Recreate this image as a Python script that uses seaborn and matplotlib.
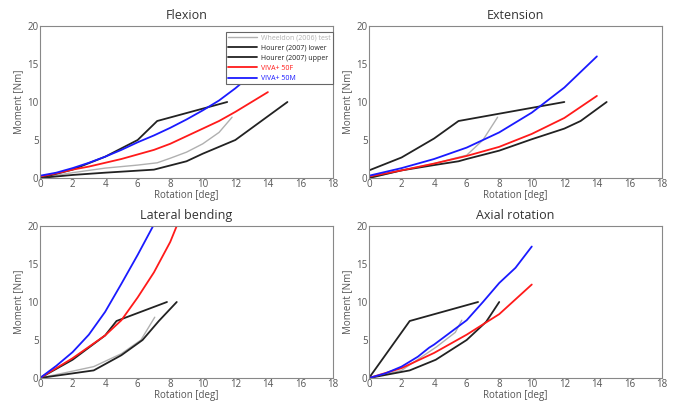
import numpy as np
import pandas as pd
import matplotlib
matplotlib.use("Agg")
import matplotlib.pyplot as plt
import seaborn as sns

sns.set_style("white")
plt.rcParams['font.family'] = ['Open Sans', 'DejaVu Sans']

series_names = ["Wheeldon (2006) test", "Hourer (2007) lower", "Hourer (2007) upper",
                "VIVA+ 50F", "VIVA+ 50M"]
series_colors = ["#b0b0b0", "#222222", "#222222", "#ff1a1a", "#1a1aff"]
titles = ["Flexion", "Extension", "Lateral bending", "Axial rotation"]
x_ticks = [0, 2, 4, 6, 8, 10, 12, 14, 16, 18]
y_ticks = [0, 5, 10, 15, 20]

# Flexion
flex_test_x = [0, 2, 4, 6, 7.2, 8, 9, 10, 11, 11.8]
flex_test_y = [0, 0.7, 1.3, 1.7, 2.0, 2.6, 3.4, 4.5, 6.0, 8.0]
flex_low_x = [0, 2, 4, 6, 7.2, 11.5]
flex_low_y = [0, 1.1, 2.8, 5.0, 7.5, 10.0]
flex_up_x = [0, 2, 4, 7, 9, 10, 12, 15.2]
flex_up_y = [0, 0.4, 0.7, 1.1, 2.2, 3.2, 5.0, 10.0]
flex_50f_x = [0, 1, 2, 3, 4, 5, 6, 7, 8, 9, 10, 11, 12, 13, 14]
flex_50f_y = [0.2, 0.6, 1.1, 1.5, 2.0, 2.5, 3.1, 3.7, 4.5, 5.5, 6.5, 7.5, 8.7, 10.0, 11.3]
flex_50m_x = [0, 1, 2, 3, 4, 5, 6, 7, 8, 9, 10, 11, 12, 13, 14]
flex_50m_y = [0.3, 0.7, 1.3, 2.0, 2.8, 3.7, 4.7, 5.6, 6.6, 7.7, 8.9, 10.2, 11.8, 13.6, 15.6]

# Extension
ext_test_x = [0, 2, 4, 6, 7, 7.9]
ext_test_y = [0, 1.0, 1.9, 3.0, 5.0, 8.0]
ext_low_x = [0, 2, 4, 5.5, 12]
ext_low_y = [1.0, 2.7, 5.2, 7.5, 10.0]
ext_up_x = [0, 2, 4, 5.5, 6, 8, 10, 12, 13, 14.6]
ext_up_y = [0, 1.0, 1.7, 2.2, 2.5, 3.6, 5.1, 6.5, 7.5, 10.0]
ext_50f_x = [0, 2, 4, 6, 8, 10, 12, 14]
ext_50f_y = [0.2, 1.0, 1.9, 2.9, 4.1, 5.8, 7.9, 10.8]
ext_50m_x = [0, 2, 4, 6, 8, 10, 12, 14]
ext_50m_y = [0.3, 1.3, 2.5, 4.0, 6.0, 8.6, 11.9, 16.0]

# Lateral bending
lat_test_x = [0, 2, 3.3, 5, 6.2, 7.05]
lat_test_y = [0, 0.9, 1.5, 3.2, 5.0, 8.0]
lat_low_x = [0, 2, 4, 4.7, 7.8]
lat_low_y = [0, 2.4, 5.6, 7.5, 10.0]
lat_up_x = [0, 3.3, 5, 6.3, 7.3, 8.4]
lat_up_y = [0, 1.0, 3.0, 5.0, 7.5, 10.0]
lat_50f_x = [0, 1, 2, 3, 4, 5, 6, 7, 8, 8.4]
lat_50f_y = [0, 1.3, 2.6, 4.1, 5.6, 7.6, 10.6, 13.9, 17.9, 20.0]
lat_50m_x = [0, 1, 2, 3, 4, 5, 6, 6.95]
lat_50m_y = [0, 1.6, 3.4, 5.7, 8.7, 12.4, 16.2, 20.0]

# Axial rotation
axi_test_x = [0, 2, 4.15, 5.3, 5.7]
axi_test_y = [0, 1.0, 4.1, 6.0, 7.6]
axi_low_x = [0, 2.5, 6.7]
axi_low_y = [0, 7.5, 10.0]
axi_up_x = [0, 2.5, 4.1, 6, 7.2, 8.0]
axi_up_y = [0, 1.0, 2.4, 5.0, 7.4, 10.0]
axi_50f_x = [0, 2, 4, 6, 8, 10]
axi_50f_y = [0, 1.3, 3.3, 5.7, 8.4, 12.3]
axi_50m_x = [0, 1, 2, 3, 3.7, 4, 5, 6, 7, 8, 9, 10]
axi_50m_y = [0, 0.6, 1.5, 2.8, 4.0, 4.4, 6.0, 7.6, 10.0, 12.5, 14.5, 17.3]

panels = [
    [(flex_test_x, flex_test_y), (flex_low_x, flex_low_y), (flex_up_x, flex_up_y),
     (flex_50f_x, flex_50f_y), (flex_50m_x, flex_50m_y)],
    [(ext_test_x, ext_test_y), (ext_low_x, ext_low_y), (ext_up_x, ext_up_y),
     (ext_50f_x, ext_50f_y), (ext_50m_x, ext_50m_y)],
    [(lat_test_x, lat_test_y), (lat_low_x, lat_low_y), (lat_up_x, lat_up_y),
     (lat_50f_x, lat_50f_y), (lat_50m_x, lat_50m_y)],
    [(axi_test_x, axi_test_y), (axi_low_x, axi_low_y), (axi_up_x, axi_up_y),
     (axi_50f_x, axi_50f_y), (axi_50m_x, axi_50m_y)],
]

fig = plt.figure(figsize=(6.83, 4.07), dpi=100)
positions = [
    [40 / 683, 1 - 178 / 407, 293 / 683, 152 / 407],
    [369 / 683, 1 - 178 / 407, 293 / 683, 152 / 407],
    [40 / 683, 1 - 378 / 407, 293 / 683, 152 / 407],
    [369 / 683, 1 - 378 / 407, 293 / 683, 152 / 407],
]

for i, (title, data) in enumerate(zip(titles, panels)):
    ax = fig.add_axes(positions[i])
    for name, color, (xs, ys) in zip(series_names, series_colors, data):
        df = pd.DataFrame({"Rotation": xs, "Moment": ys})
        lw = 1.0 if name.startswith("Wheeldon") else 1.3
        sns.lineplot(data=df, x="Rotation", y="Moment", ax=ax, color=color,
                     lw=lw, label=name if i == 0 else None, estimator=None, sort=False)
    ax.set_xlim(0, 18)
    ax.set_ylim(0, 20)
    ax.set_xticks(x_ticks)
    ax.set_yticks(y_ticks)
    ax.set_title(title, fontsize=9, color="#333333", pad=5)
    ax.set_xlabel("Rotation [deg]", fontsize=7, color="#555555", labelpad=0)
    ax.set_ylabel("Moment [Nm]", fontsize=7, color="#555555", labelpad=2)
    ax.tick_params(axis="both", labelsize=7, colors="#555555", length=0, pad=1)
    for s in ax.spines.values():
        s.set_color("#888888")
        s.set_linewidth(0.8)
    if i == 0:
        leg = ax.legend(loc="upper right", fontsize=5, frameon=True, fancybox=False,
                        edgecolor="#666666", framealpha=1, handlelength=4.2,
                        handletextpad=0.5, borderpad=0.35, labelspacing=0.45,
                        labelcolor="linecolor", borderaxespad=0,
                        bbox_to_anchor=(1.0, 0.96))
        leg.get_frame().set_linewidth(0.8)
    else:
        if ax.get_legend() is not None:
            ax.get_legend().remove()

fig.savefig("out.png", dpi=100)
